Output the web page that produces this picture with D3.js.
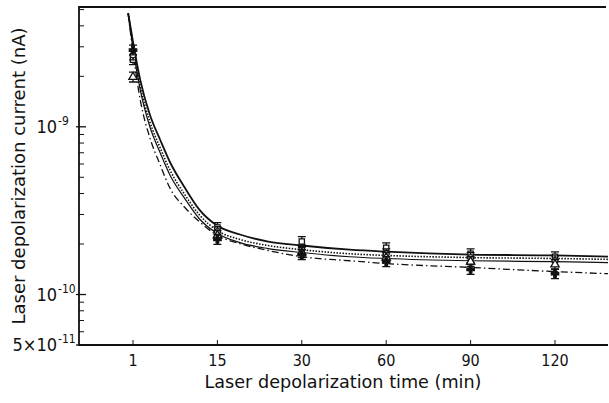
<!DOCTYPE html>
<html>
<head>
<meta charset="utf-8">
<script src="https://cdn.jsdelivr.net/npm/d3@7"></script>
<style>
  html, body { margin: 0; padding: 0; background: #fff; }
  svg text { font-family: "DejaVu Sans Condensed", "Liberation Sans Narrow", "DejaVu Sans", sans-serif; fill: #111; }
</style>
</head>
<body>
<div id="chart"></div>
<script>
// Tick labels of the time axis (equally spaced in the figure)
const timeTicks = [1, 15, 30, 60, 90, 120];

// Fitted curves, times (min) and currents (nA)
const curveTimes = [0.2, 1, 2.2, 3.8, 5.5, 7.1, 9.6, 12, 15, 19, 24, 30, 47, 60, 90, 120, 139];
const curveSolid = [4.77e-9, 3.21e-9, 1.905e-9, 1.179e-9, 8.37e-10, 6.19e-10, 4.33e-10, 3.21e-10, 2.57e-10, 2.28e-10, 2.07e-10, 1.96e-10, 1.85e-10, 1.80e-10, 1.73e-10, 1.71e-10, 1.68e-10];
const curveDotted = [4.77e-9, 3.08e-9, 1.754e-9, 1.071e-9, 7.50e-10, 5.55e-10, 3.94e-10, 2.99e-10, 2.40e-10, 2.13e-10, 1.96e-10, 1.85e-10, 1.75e-10, 1.71e-10, 1.66e-10, 1.64e-10, 1.62e-10];
const curveThin = [4.71e-9, 2.95e-9, 1.661e-9, 1.0e-9, 7.00e-10, 5.18e-10, 3.73e-10, 2.83e-10, 2.31e-10, 2.04e-10, 1.88e-10, 1.78e-10, 1.68e-10, 1.64e-10, 1.59e-10, 1.57e-10, 1.55e-10];
const curveDashDot = [4.71e-9, 2.80e-9, 1.448e-9, 8.60e-10, 5.94e-10, 4.33e-10, 3.30e-10, 2.72e-10, 2.25e-10, 2.01e-10, 1.83e-10, 1.68e-10, 1.59e-10, 1.53e-10, 1.45e-10, 1.37e-10, 1.33e-10];

// Measured points at the tick times
const squarePts = [2.51e-9, 2.51e-10, 2.07e-10, 1.90e-10, 1.75e-10, 1.68e-10];
const circlePts = [2.68e-9, 2.37e-10, 1.85e-10, 1.75e-10, 1.66e-10, 1.59e-10];
const trianglePts = [1.98e-9, 2.25e-10, 1.78e-10, 1.66e-10, 1.57e-10, 1.51e-10];
const plusPts = [2.87e-9, 2.13e-10, 1.73e-10, 1.57e-10, 1.41e-10, 1.33e-10];
const errFactor = 1.07;

// Y tick labels
const yMajor = [{v: 1e-9, base: "10", sup: "-9"}, {v: 1e-10, base: "10", sup: "-10"}, {v: 5e-11, base: "5×10", sup: "-11"}];
const yMinor = [6e-11, 7e-11, 8e-11, 9e-11, 2e-10, 3e-10, 4e-10, 5e-10, 6e-10, 7e-10, 8e-10, 9e-10, 2e-9, 3e-9, 4e-9, 5e-9];

const width = 609, height = 403;
const m = {left: 79, right: 608, top: 7, bottom: 345};

const svg = d3.select("#chart").append("svg")
    .attr("width", width)
    .attr("height", height);

// x: the figure puts the tick times at equal spacing -> piecewise linear scale
const xPos = d3.scalePoint().domain(timeTicks).range([133, 555]);
const x = d3.scaleLinear().domain(timeTicks).range(timeTicks.map(xPos));
const y = d3.scaleLog().domain([5e-11, 5.18e-9]).range([m.bottom, m.top]);

svg.append("defs").append("clipPath").attr("id", "plot")
    .append("rect").attr("x", m.left).attr("y", m.top)
    .attr("width", m.right - m.left).attr("height", m.bottom - m.top);

// frame
svg.append("path")
    .attr("d", `M${m.right - 2},${m.top} H${m.left} V${m.bottom} H${m.right}`)
    .attr("fill", "none")
    .attr("stroke", "#111")
    .attr("stroke-width", 1.8);

// y ticks (inward)
svg.selectAll(".ymaj").data(yMajor).enter().append("line")
    .attr("x1", m.left - 3).attr("x2", m.left + 7)
    .attr("y1", d => y(d.v)).attr("y2", d => y(d.v))
    .attr("stroke", "#111").attr("stroke-width", 1.3);
svg.selectAll(".ymin").data(yMinor).enter().append("line")
    .attr("x1", m.left).attr("x2", m.left + 5)
    .attr("y1", d => y(d)).attr("y2", d => y(d))
    .attr("stroke", "#111").attr("stroke-width", 1);

const yLab = svg.selectAll(".ylab").data(yMajor).enter().append("g");
yLab.append("text")
    .attr("x", 57).attr("y", d => y(d.v) + 6)
    .attr("text-anchor", "end")
    .attr("font-size", 18)
    .text(d => d.base);
yLab.append("text")
    .attr("x", 58).attr("y", d => y(d.v) - 2)
    .attr("text-anchor", "start")
    .attr("font-size", 12)
    .text(d => d.sup);

// x ticks (inward)
svg.selectAll(".xt").data(timeTicks).enter().append("line")
    .attr("x1", d => x(d)).attr("x2", d => x(d))
    .attr("y1", m.bottom).attr("y2", m.bottom - 5)
    .attr("stroke", "#111").attr("stroke-width", 1);
svg.selectAll(".xl").data(timeTicks).enter().append("text")
    .attr("x", d => x(d)).attr("y", 366)
    .attr("text-anchor", "middle")
    .attr("font-size", 16)
    .text(d => d);

// axis titles
svg.append("text")
    .attr("x", 343).attr("y", 388)
    .attr("text-anchor", "middle")
    .attr("font-size", 17)
    .attr("textLength", 277).attr("lengthAdjust", "spacingAndGlyphs")
    .text("Laser depolarization time (min)");
svg.append("text")
    .attr("transform", "translate(25,176) rotate(-90)")
    .attr("text-anchor", "middle")
    .attr("font-size", 18)
    .attr("textLength", 297).attr("lengthAdjust", "spacingAndGlyphs")
    .text("Laser depolarization current (nA)");

// curves
const plot = svg.append("g").attr("clip-path", "url(#plot)");
const line = d3.line()
    .x(d => x(d[0]))
    .y(d => y(d[1]))
    .curve(d3.curveMonotoneX);

const curves = [
    {vals: curveSolid, w: 1.8, dash: null},
    {vals: curveDotted, w: 1.6, dash: "1.5,1.5"},
    {vals: curveThin, w: 1.2, dash: null},
    {vals: curveDashDot, w: 1.3, dash: "7,3,1.5,3"}
];
curves.forEach(c => {
    plot.append("path")
        .datum(curveTimes.map((t, i) => [t, c.vals[i]]))
        .attr("d", line)
        .attr("fill", "none")
        .attr("stroke", "#111")
        .attr("stroke-width", c.w)
        .attr("stroke-dasharray", c.dash);
});

// measured points with error bars
const sym = {
    square: d3.symbol().type(d3.symbolSquare).size(28),
    circle: d3.symbol().type(d3.symbolCircle).size(28),
    triangle: d3.symbol().type(d3.symbolTriangle).size(30),
    plus: d3.symbol().type(d3.symbolCross).size(30)
};
const series = [
    {vals: squarePts, shape: "square"},
    {vals: circlePts, shape: "circle"},
    {vals: trianglePts, shape: "triangle"},
    {vals: plusPts, shape: "plus"}
];
series.forEach(s => {
    const g = plot.append("g");
    const pts = timeTicks.map((t, i) => ({t: t, v: s.vals[i]}));
    g.selectAll(".err").data(pts).enter().append("path")
        .attr("d", d => {
            const cx = x(d.t), y0 = y(d.v * errFactor), y1 = y(d.v / errFactor);
            return `M${cx},${y0} V${y1} M${cx - 4},${y0} H${cx + 4} M${cx - 4},${y1} H${cx + 4}`;
        })
        .attr("fill", "none")
        .attr("stroke", "#111")
        .attr("stroke-width", 1.3);
    g.selectAll(".pt").data(pts).enter().append("path")
        .attr("transform", d => `translate(${x(d.t)},${y(d.v)})`)
        .attr("d", sym[s.shape])
        .attr("fill", s.shape === "plus" ? "#111" : "#fff")
        .attr("stroke", "#111")
        .attr("stroke-width", 1.3);
});
</script>
</body>
</html>
